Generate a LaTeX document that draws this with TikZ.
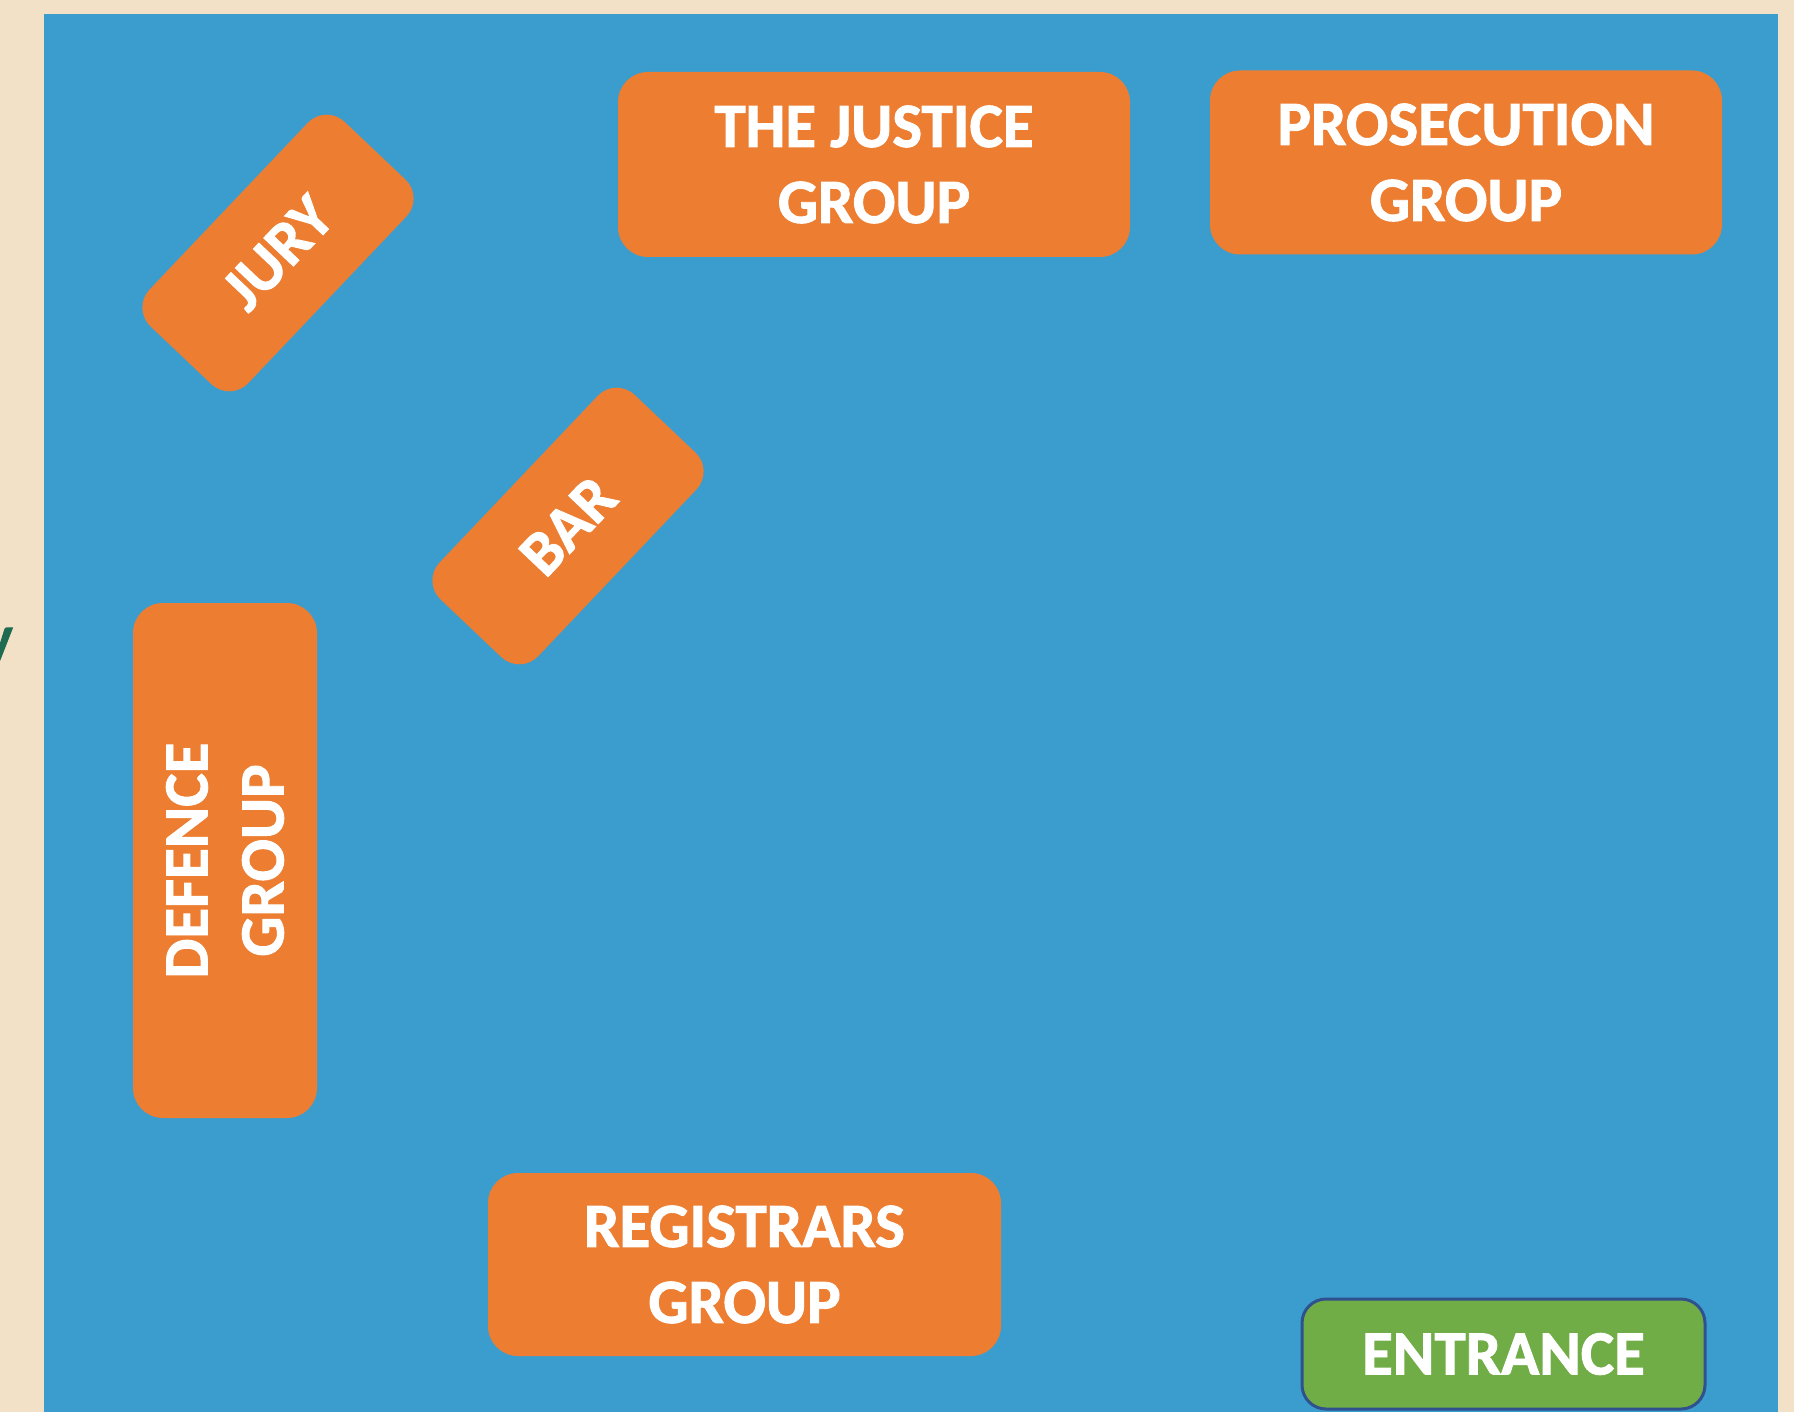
\documentclass[tikz,border=0pt]{standalone}
\usepackage{fontspec}
\setmainfont{Carlito}[BoldFeatures={FakeBold=1.5}]
\definecolor{bgbeige}{HTML}{F2E1C7}
\definecolor{roomblue}{HTML}{3B9DCE}
\definecolor{boxorange}{HTML}{ED7D31}
\definecolor{doorgreen}{HTML}{70AD47}
\definecolor{doorline}{HTML}{2F528F}
\definecolor{textgreen}{HTML}{1E6B52}
\tikzset{
  groupbox/.style={rectangle, rounded corners=30pt, fill=boxorange, text=white,
    font=\fontsize{63}{76}\selectfont\bfseries, align=center, inner sep=0pt},
  slantlabel/.style={text=white, font=\fontsize{63}{76}\selectfont\bfseries,
    inner sep=0pt, rotate=46.5},
  doorbox/.style={rectangle, rounded corners=24pt, fill=doorgreen, draw=doorline,
    line width=3pt, text=white, font=\fontsize{63}{76}\selectfont\bfseries, inner sep=0pt}
}
\begin{document}
\begin{tikzpicture}[x=1pt,y=-1pt]
\useasboundingbox (0,0) rectangle (1794,1412);
\clip (0,0) rectangle (1794,1412);
\fill[bgbeige] (0,0) rectangle (1794,1412);
\node[anchor=base east, inner sep=0pt, text=textgreen, font=\fontsize{58}{60}\selectfont\bfseries] (ylet) at (13,656) {y};
\fill[roomblue] (44,14) rectangle (1778,1420);
\node[groupbox, minimum width=512pt, minimum height=185pt] (justice) at (874,164.5) {THE JUSTICE\\GROUP};
\node[groupbox, minimum width=512pt, minimum height=184pt] (prosecution) at (1466,162.5) {PROSECUTION\\GROUP};
\node[groupbox, minimum width=513pt, minimum height=183pt] (registrars) at (744.5,1264.5) {REGISTRARS\\GROUP};
\node[groupbox, rotate=90, minimum width=515pt, minimum height=184pt] (defence) at (225,860.5) {DEFENCE\\GROUP};
\node[groupbox, rotate=46.5, rounded corners=26pt, minimum width=282pt, minimum height=136pt] (jury) at (278,253) {};
\node[slantlabel] (jurytext) at (jury.center) {JURY};
\node[groupbox, rotate=46.5, rounded corners=26pt, minimum width=282pt, minimum height=136pt] (bar) at (568,526) {};
\node[slantlabel] (bartext) at (bar.center) {BAR};
\node[doorbox, minimum width=403pt, minimum height=110pt] (entrance) at (1503.5,1354) {ENTRANCE};
\end{tikzpicture}
\end{document}
